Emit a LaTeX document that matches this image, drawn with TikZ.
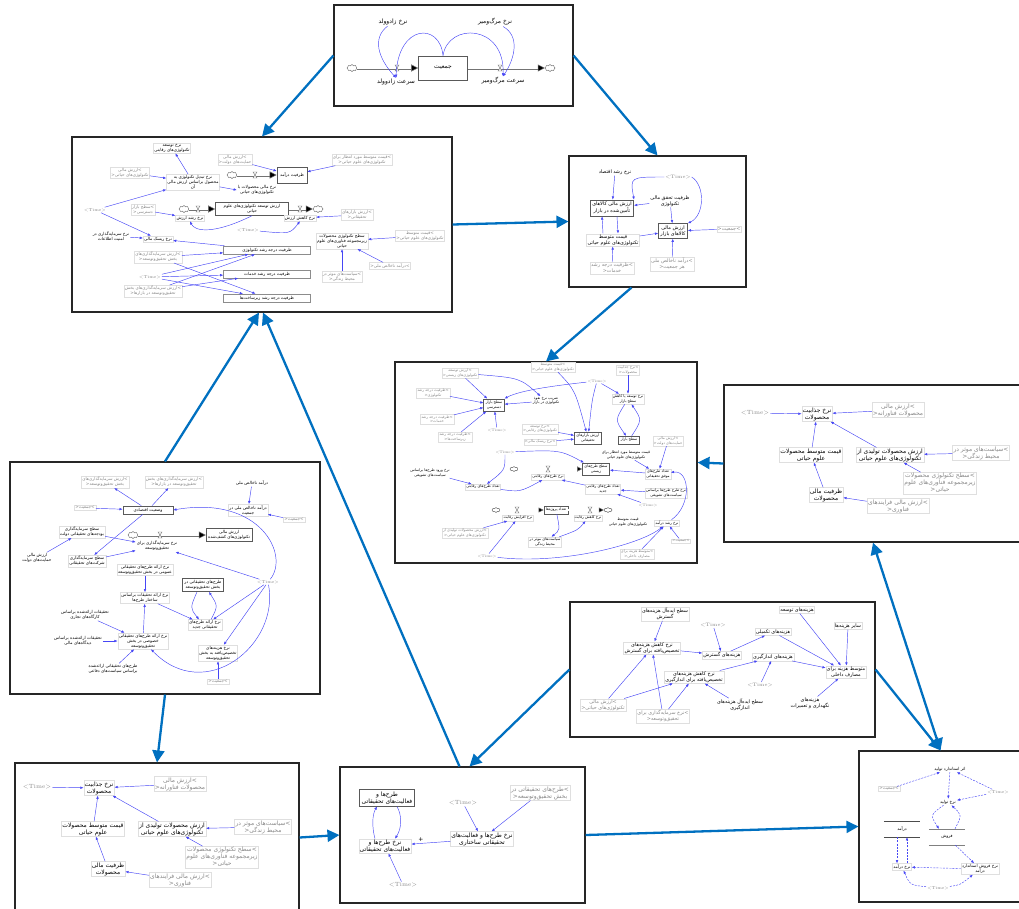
\documentclass[tikz,border=0pt]{standalone}
\usepackage{fontspec}
\newfontfamily\farsi[Script=Arabic]{DejaVu Sans}
\TeXXeTstate=1
\usepackage{tikz}
\usetikzlibrary{arrows.meta}
\usetikzlibrary{shapes.symbols}
\definecolor{linkblue}{RGB}{0,112,192}
\definecolor{sdblue}{RGB}{70,70,245}
\definecolor{shgray}{RGB}{135,135,135}
\newcommand{\fa}[1]{\beginR #1\endR}
\newcommand{\tm}{{\rmfamily <Time>}}
\newcommand{\fsA}{\farsi\fontsize{6}{7}\selectfont}
\newcommand{\fsB}{\farsi\fontsize{4.9}{5.8}\selectfont}
\newcommand{\fsC}{\farsi\fontsize{4.2}{5}\selectfont}
\newcommand{\fsD}{\farsi\fontsize{3.7}{4.4}\selectfont}
\newcommand{\vlv}[1]{\draw[black!60,line width=0.35pt,fill=white] (#1) ++(-2,-3) -- ++(4,0) -- ++(-4,6) -- ++(4,0) -- cycle;}

\begin{document}
\begin{tikzpicture}[x=1pt,y=-1pt]
\tikzset{>={Latex[width=2.6pt,length=3.2pt]}}
\tikzstyle{panel}=[draw=black!85,line width=1.1pt,inner sep=0pt]
\tikzstyle{link}=[-{Triangle[width=12pt,length=12pt]},draw=linkblue,line width=2.3pt]
\tikzstyle{arr}=[->,draw=sdblue,line width=0.45pt]
\tikzstyle{darr}=[arr,dash pattern=on 2pt off 1.2pt]
\tikzstyle{var}=[align=center,inner sep=1pt,draw=gray!25,line width=0.25pt]
\tikzstyle{shd}=[var,text=shgray]
\tikzstyle{stock}=[align=center,inner sep=2pt,draw=black!65,line width=0.6pt,fill=white]
\tikzstyle{cld}=[cloud,cloud puffs=8,draw=black!65,fill=white,minimum width=10pt,minimum height=7pt,inner sep=0pt,line width=0.4pt]
\tikzset{pipe/.style={draw=black!55,line width=0.5pt,double=white,double distance=2pt,-{Triangle[width=#1,length=#1,fill=black]}},pipe/.default=7pt}

\useasboundingbox (0,0) rectangle (1019,908);

\node[panel,minimum width=239pt,minimum height=101pt] (pTop) at (453.5,55.5) {};
\node[panel,minimum width=380pt,minimum height=175pt] (pLU) at (262,224.5) {};
\node[panel,minimum width=177pt,minimum height=131pt] (pR1) at (657.5,221.5) {};
\node[panel,minimum width=302pt,minimum height=201pt] (pM) at (546,462.5) {};
\node[panel,minimum width=298pt,minimum height=157pt] (pR2) at (873,463.5) {};
\node[panel,minimum width=310pt,minimum height=232pt] (pLM) at (165,578) {};
\node[panel,minimum width=305pt,minimum height=135pt] (pML) at (722.5,669.5) {};
\node[panel,minimum width=284pt,minimum height=149pt] (pBL) at (157,837.5) {};
\node[panel,minimum width=245pt,minimum height=136pt] (pBM) at (462.5,835) {};
\node[panel,minimum width=163pt,minimum height=151pt] (pBR) at (940.5,826.5) {};

% population
\begin{scope}[every node/.append style={font=\fsA}]
\node[stock,minimum width=49pt,minimum height=24pt] (tPop) at (443,68) {\fa{جمعیت}};
\node[cld] (tC1) at (352,68) {};
\node[cld] (tC2) at (550,68) {};
\draw[pipe] (tC1) -- (tPop);
\draw[pipe] (tPop) -- (tC2);
\vlv{397,68}
\vlv{500,68}
\node[var,draw=none] (tB) at (396,82) {\fa{سرعت زادوولد}};
\node[var,draw=none] (tD) at (503,81) {\fa{سرعت مرگ‌ومیر}};
\node[var,draw=none] (tBr) at (393,22) {\fa{نرخ زادوولد}};
\node[var,draw=none] (tDr) at (495,22) {\fa{نرخ مرگ‌ومیر}};
\draw[arr] (tBr) .. controls (372,38) and (378,58) .. (tB.north);
\draw[arr] (tPop.north) .. controls (440,22) and (398,24) .. (tB.north);
\draw[arr] (tPop.north) .. controls (448,22) and (505,24) .. (tD.north);
\draw[arr] (tDr) .. controls (520,36) and (515,58) .. (tD.north);
\end{scope}

\begin{scope}[every node/.append style={font=\fsB}]
\node[var,draw=none] (r1G) at (615,172) {\fa{نرخ رشد اقتصاد}};
\node[shd,draw=none] (r1T) at (678,177) {\tm};
\node[stock] (r1A) at (612,208) {\fa{ارزش مالی کالاهای}\\\fa{تأمین‌شده در بازار}};
\node[var,draw=none] (r1Z) at (670,201) {\fa{ظرفیت تحقق مالی}\\\fa{تکنولوژی}};
\node[stock] (r1B) at (673,231) {\fa{ارزش مالی}\\\fa{کالاهای بازار}};
\node[var] (r1P) at (613,240) {\fa{قیمت متوسط}\\\fa{تکنولوژی‌های علوم حیاتی}};
\node[shd] (r1J) at (729,229) {<\fa{جمعیت}>};
\node[shd] (r1D) at (672,264) {\fa{درآمد ناخالص ملی}>\\<\fa{هر جمعیت}};
\node[shd] (r1S) at (612,268) {\fa{ظرفیت درجه رشد}>\\<\fa{خدمات}};
\draw[arr] (r1G) -- (r1A);
\draw[arr] (r1T.west) .. controls (630,177) .. (r1A.north east);
\draw[arr] (r1T.east) .. controls (705,185) and (705,215) .. (r1B.north east);
\draw[arr] (r1Z) -- (r1A);
\draw[arr] (r1Z) -- (r1B);
\draw[arr] ([xshift=-10pt]r1P.north) -- ([xshift=-10pt]r1A.south);
\draw[arr] ([xshift=5pt]r1A.south) -- ([xshift=5pt]r1P.north);
\draw[arr] (r1P) -- (r1B);
\draw[arr] (r1J) -- (r1B);
\draw[arr] (r1D) -- (r1B);
\draw[arr] (r1S) -- (r1P);
\end{scope}

\foreach \dx/\dy/\s in {0/0/a,718/-374/b}{
\begin{scope}[shift={(\dx,\dy)},every node/.append style={font=\fsA}]
\node[shd,draw=none] (t\s) at (37,787) {\tm};
\node[var] (n\s) at (99,788) {\fa{نرخ جذابیت}\\\fa{محصولات}};
\node[shd] (m\s) at (180,784) {\fa{ارزش مالی}>\\<\fa{محصولات فناورانه}};
\node[var] (q\s) at (93,829) {\fa{قیمت متوسط محصولات}\\\fa{علوم حیاتی}};
\node[var] (v\s) at (172,829) {\fa{ارزش محصولات تولیدی از}\\\fa{تکنولوژی‌های علوم حیاتی}};
\node[shd] (s\s) at (263,827) {\fa{سیاست‌های موثر در}>\\<\fa{محیط زندگی}};
\node[shd] (l\s) at (222,857) {\fa{سطح تکنولوژی محصولات}>\\\fa{زیرمجموعه فناوری‌های علوم}\\<\fa{حیاتی}};
\node[var] (c\s) at (108,869) {\fa{ظرفیت مالی}\\\fa{محصولات}};
\node[shd] (f\s) at (180,880) {\fa{ارزش مالی فرایندهای}>\\<\fa{فناوری}};
\draw[arr] (t\s) -- (n\s);
\draw[arr] (m\s) -- (n\s);
\draw[arr] (q\s) -- (n\s);
\draw[arr] (v\s) -- (n\s);
\draw[arr] (s\s) -- (v\s);
\draw[arr] (l\s) -- (v\s);
\draw[arr] (c\s) -- (q\s);
\draw[arr] (f\s) -- (c\s);
\end{scope}}

\begin{scope}[every node/.append style={font=\fsA}]
\node[stock] (bS) at (387,798) {\fa{طرح‌ها و}\\\fa{فعالیت‌های تحقیقاتی}};
\node[var] (bR) at (385,846) {\fa{نرخ طرح‌ها و}\\\fa{فعالیت‌های تحقیقاتی}};
\node[shd,draw=none] (bT1) at (463,803) {\tm};
\node[shd] (bP) at (540,793) {\fa{طرح‌های تحقیقاتی در}>\\<\fa{بخش تحقیق‌وتوسعه}};
\node[var] (bN) at (482,839) {\fa{نرخ طرح‌ها و فعالیت‌های}\\\fa{تحقیقاتی ساختاری}};
\node[shd,draw=none] (bT2) at (403,885) {\tm};
\node (bPl) at (421,840) {+};
\draw[arr] ([xshift=10pt]bS.south) .. controls (402,815) and (402,828) .. ([xshift=10pt]bR.north);
\draw[arr] ([xshift=-10pt]bR.north) .. controls (372,828) and (372,815) .. ([xshift=-10pt]bS.south);
\draw[arr] (bT1) -- (bN);
\draw[arr] (bP) -- (bN);
\draw[arr] (bN) -- (bR);
\draw[arr] (bT2) -- (bR);
\end{scope}

% costs
\begin{scope}[every node/.append style={font=\fsB}]
\node[var] (mI1) at (665,614) {\fa{سطح ایده‌آل هزینه‌های}\\\fa{گسترش}};
\node[shd,draw=none] (mT1) at (713,625) {\tm};
\node[var] (mD) at (797,610) {\fa{هزینه‌های توسعه}};
\node[var] (mK1) at (652,648) {\fa{نرخ کاهش هزینه‌های}\\\fa{تخصیص‌یافته برای گسترش}};
\node[var] (mG) at (722,655) {\fa{هزینه‌های گسترش}};
\node[var] (mC) at (773,632) {\fa{هزینه‌های تکمیلی}};
\node[var] (mO) at (848,626) {\fa{سایر هزینه‌ها}};
\node[var] (mA) at (773,657) {\fa{هزینه‌های اندازگیری}};
\node[var] (mK2) at (694,677) {\fa{نرخ کاهش هزینه‌های}\\\fa{تخصیص‌یافته برای اندازگیری}};
\node[var] (mM) at (846,672) {\fa{متوسط هزینه برای}\\\fa{مصارف داخلی}};
\node[shd,draw=none] (mT2) at (760,685) {\tm};
\node[shd] (mV) at (603,705) {\fa{ارزش مالی}>\\<\fa{تکنولوژی‌های حیاتی}};
\node[shd] (mR) at (663,716) {\fa{نرخ سرمایه‌گذاری برای}>\\<\fa{تحقیق‌وتوسعه}};
\node[var,draw=none] (mI2) at (740,705) {\fa{سطح ایده‌آل هزینه‌های}\\\fa{اندازگیری}};
\node[var,draw=none] (mN) at (810,703) {\fa{هزینه‌های}\\\fa{نگهداری و تعمیرات}};
\draw[arr] (mI1) -- (mK1);
\draw[arr] (mT1) -- (mG);
\draw[arr] (mK1) -- (mG);
\draw[arr] (mG) -- (mC);
\draw[arr] (mC) -- (mM);
\draw[arr] (mD) -- (mM);
\draw[arr] (mO) -- (mM);
\draw[arr] (mA) -- (mM);
\draw[arr] (mK2) -- (mA);
\draw[arr] (mT2) -- (mA);
\draw[arr] (mN) -- (mM);
\draw[arr] (mI2) -- (mK2);
\draw[arr] (mV) -- (mK1);
\draw[arr] (mV) -- (mK2);
\draw[arr] (mR) -- (mK1);
\draw[arr] (mR) -- (mK2);
\end{scope}

\begin{scope}[every node/.append style={font=\fsC}]
\node[var,draw=none] (zE) at (950,769) {\fa{اثر استاندارد تولید}};
\node[shd] (zJ) at (889,789) {<\fa{جمعیت}>};
\node[shd,draw=none] (zT1) at (998,792) {\tm};
\node[var,draw=none] (zR) at (948,802) {\fa{نرخ تولید}};
\node[var,draw=none,minimum width=36pt,minimum height=16pt] (zS) at (947,837) {\fa{فروش}};
\node[var,draw=none,minimum width=36pt,minimum height=16pt] (zI) at (902,829) {\fa{درآمد}};
\draw[gray] (zS.north west) -- (zS.north east) (zS.south west) -- (zS.south east);
\draw[black!70] (zI.north west) -- (zI.north east) (zI.south west) -- (zI.south east);
\node[var] (zQ) at (902,867) {\fa{نرخ درآمد}};
\node[var] (zF) at (980,869) {\fa{نرخ فروش استاندارد}\\\fa{درآمد}};
\node[shd,draw=none] (zT2) at (938,888) {\tm};
\draw[darr] (zJ) -- (zE);
\draw[darr] (zT1) -- (zE);
\draw[darr] (zE) -- (zR);
\draw[darr] (zT1) -- (zR);
\draw[darr] (zR) .. controls (930,815) .. ([xshift=-8pt]zS.north);
\draw[darr] ([xshift=8pt]zS.north) .. controls (962,815) .. (zR);
\draw[darr] (zS) -- (zF);
\draw[darr] (zF) -- (zQ);
\draw[darr] ([xshift=-5pt]zI.south) -- ([xshift=-5pt]zQ.north);
\draw[darr] ([xshift=5pt]zQ.north) -- ([xshift=5pt]zI.south);
\draw[darr] (zT2) .. controls (910,885) .. (zQ);
\draw[darr] (zT2) .. controls (960,885) .. (zF);
\end{scope}

\begin{scope}[every node/.append style={font=\fsC}]
\node[var] (uA) at (172,148) {\fa{نرخ توسعه}\\\fa{تکنولوژی‌های رقابتی}};
\node[shd] (uB) at (235,160) {\fa{ارزش مالی}>\\<\fa{حمایت‌های دولت}};
\node[shd] (uC) at (362,160) {\fa{قیمت متوسط مورد انتظار برای}>\\<\fa{تکنولوژی‌های علوم حیاتی}};
\node[shd] (uD) at (130,173) {\fa{ارزش مالی}>\\<\fa{تکنولوژی‌های حیاتی}};
\node[var] (uE) at (193,182) {\fa{نرخ تبدیل تکنولوژی به}\\\fa{محصول براساس ارزش مالی}\\\fa{آن}};
\node[stock,minimum width=30pt,minimum height=16pt] (uF) at (292,175) {\fa{ظرفیت درآمد}};
\node[cld] (uC1) at (232,175) {};
\draw[pipe] (uC1) -- (uF);
\vlv{255,175}
\node[var,draw=none] (uG) at (257,190) {\fa{نرخ مالی محصولات با}\\\fa{تکنولوژی‌های حیاتی}};
\node[shd,draw=none] (uT1) at (95,210) {\tm};
\node[shd] (uH) at (143,210) {\fa{سطح بازار}>\\<\fa{دسترسی}};
\node[stock,minimum width=73pt] (uS) at (252,209) {\fa{ارزش توسعه تکنولوژی‌های علوم}\\\fa{حیاتی}};
\node[cld] (uC2) at (184,209) {};
\node[cld] (uC3) at (318,209) {};
\draw[pipe] (uC2) -- (uS);
\draw[pipe] (uS) -- (uC3);
\vlv{198,209}
\vlv{300,209}
\node[var] (uI) at (190,218) {\fa{نرخ رشد ارزش}};
\node[var] (uJ) at (300,218) {\fa{نرخ کاهش ارزش}};
\node[shd,draw=none] (uT2) at (248,230) {\tm};
\node[shd] (uK) at (357,215) {\fa{ارزش بازارهای}>\\<\fa{تحقیقاتی}};
\node[var,draw=none] (uL) at (111,236) {\fa{نرخ سرمایه‌گذاری در}\\\fa{امنیت اطلاعات}};
\node[var] (uM) at (158,239) {\fa{نرخ ریسک مالی}};
\node[stock,draw=black!45,line width=0.4pt,minimum width=87pt] (uN) at (267,250) {\fa{ظرفیت درجه رشد تکنولوژی}};
\node[var] (uO) at (342,241) {\fa{سطح تکنولوژی محصولات}\\\fa{زیرمجموعه فناوری‌های علوم}\\\fa{حیاتی}};
\node[shd] (uP) at (420,236) {\fa{قیمت متوسط}>\\<\fa{تکنولوژی‌های علوم حیاتی}};
\node[shd] (uQ) at (158,257) {\fa{ارزش سرمایه‌گذاری‌های}>\\<\fa{بخش تحقیق‌وتوسعه}};
\node[shd,draw=none] (uT3) at (150,277) {\tm};
\node[stock,draw=black!45,line width=0.4pt,minimum width=87pt] (uR) at (267,274) {\fa{ظرفیت درجه رشد خدمات}};
\node[shd] (uU) at (342,277) {\fa{سیاست‌های موثر در}>\\<\fa{محیط زندگی}};
\node[shd] (uV) at (390,266) {<\fa{درآمد ناخالص ملی}>};
\node[shd] (uW) at (153,291) {\fa{ارزش سرمایه‌گذاری‌های بخش}>\\<\fa{تحقیق‌وتوسعه در بازارها}};
\node[stock,draw=black!45,line width=0.4pt,minimum width=87pt] (uX) at (267,298) {\fa{ظرفیت درجه رشد زیرساخت‌ها}};
\draw[arr] (uE) -- (uA);
\draw[arr] (uD) -- (uE);
\draw[arr] (uT1) -- (uE);
\draw[arr] (uE) -- (uG.west);
\draw[arr] (uB) -- (uF);
\draw[arr] (uC) -- (uF);
\draw[arr] (uT1) -- (uM);
\draw[arr] (uH) -- (uI);
\draw[arr] (uS.south) .. controls (215,234) and (195,232) .. (uI.south);
\draw[arr] (uT2) .. controls (290,234) .. (uJ.south);
\draw[arr] (uK) -- (uJ);
\draw[arr] (uL) -- (uM);
\draw[arr] (uN) -- (uM);
\draw[arr] (uQ) -- (uN);
\draw[arr] (uQ) -- (uX);
\draw[arr] (uT3) -- (uN);
\draw[arr] (uT3) -- (uR);
\draw[arr] (uT3) -- (uX);
\draw[arr] (uW) -- (uN);
\draw[arr] (uW) -- (uR);
\draw[arr] (uP) -- (uO);
\draw[arr] (uU) -- (uO);
\draw[arr] (uV) -- (uO);
\end{scope}

% market
\begin{scope}[every node/.append style={font=\fsD}]
\node[shd] (wA) at (460,373) {\fa{ارزش توسعه}>\\<\fa{تکنولوژی‌های زیستی}};
\node[shd] (wB) at (553,367) {\fa{قیمت متوسط}>\\<\fa{تکنولوژی‌های علوم حیاتی}};
\node[shd] (wC) at (628,370) {\fa{نرخ جذابیت}>\\<\fa{محصولات}};
\node[shd,draw=none] (wT1) at (597,381) {\tm};
\node[shd] (wD) at (433,393) {\fa{ظرفیت درجه رشد}>\\<\fa{تکنولوژی}};
\node[stock] (wE) at (494,405) {\fa{سطح بازار}\\\fa{دسترسی}};
\node[var,draw=none] (wF) at (546,401) {\fa{ضریب نرخ نفوذ}\\\fa{تکنولوژی در بازار}};
\node[var] (wG) at (628,399) {\fa{نرخ توسعه یا کاهش}\\\fa{سطح بازار}};
\node[shd] (wH) at (437,419) {\fa{ظرفیت درجه رشد}>\\<\fa{خدمات}};
\node[shd,draw=none] (wT2) at (497,430) {\tm};
\node[shd] (wI) at (455,437) {\fa{ظرفیت درجه رشد}>\\<\fa{زیرساخت‌ها}};
\node[shd] (wJ) at (540,429) {\fa{نرخ توسعه}>\\<\fa{تکنولوژی‌های رقابتی}};
\node[shd] (wK) at (540,442) {<\fa{نرخ ریسک مالی}>};
\node[stock] (wL) at (588,438) {\fa{ارزش بازارهای}\\\fa{تحقیقاتی}};
\node[stock] (wM) at (629,440) {\fa{سطح بازار}};
\node[shd] (wN) at (668,441) {\fa{ارزش مالی}>\\<\fa{حمایت‌های دولت}};
\node[shd,draw=none] (wT3) at (505,452) {\tm};
\node[var,draw=none] (wO) at (626,455) {\fa{قیمت متوسط مورد انتظار برای}\\\fa{تکنولوژی‌های علوم حیاتی}};
\node[stock] (wP) at (596,469) {\fa{سطح طرح‌های}\\\fa{زیستی}};
\node[cld,minimum width=8pt,minimum height=5pt] (wC1) at (514,469) {};
\draw[pipe=5pt,double distance=1.5pt] (wC1) -- (wP);
\vlv{548,469}
\node[var] (wQ) at (548,477) {\fa{نرخ طرح‌های رقابتی}};
\node[var] (wR) at (658,474) {\fa{تعداد طرح‌های}\\\fa{موفق تحقیقاتی}};
\node[var,draw=none] (wS) at (430,473) {\fa{نرخ ورود طرح‌ها براساس}\\\fa{سیاست‌های تشویقی}};
\node[var] (wU) at (483,487) {\fa{تعداد طرح‌های رقابتی}};
\node[var] (wV) at (603,489) {\fa{تعداد طرح‌های رقابتی}\\\fa{جدید}};
\node[var] (wW) at (666,493) {\fa{نرخ طرح طرح‌ها براساس}\\\fa{سیاست‌های تشویقی}};
\node[shd,draw=none] (wT4) at (648,505) {\tm};
\node[stock] (wX) at (556,510) {\fa{تعداد پروژه‌ها}};
\node[cld,minimum width=8pt,minimum height=5pt] (wC2) at (496,510) {};
\node[cld,minimum width=8pt,minimum height=5pt] (wC3) at (608,510) {};
\draw[pipe=5pt,double distance=1.5pt] (wC2) -- (wX);
\draw[pipe=5pt,double distance=1.5pt] (wX) -- (wC3);
\vlv{517,510}
\vlv{590,510}
\node[var] (wY) at (518,518) {\fa{نرخ افزایش رقابت}};
\node[var] (wZ) at (588,518) {\fa{نرخ کاهش رقابت}};
\node[var,draw=none] (wa) at (628,522) {\fa{قیمت متوسط}\\\fa{تکنولوژی‌های علوم حیاتی}};
\node[var] (wb) at (667,523) {\fa{نرخ رشد درآمد}};
\node[shd] (wc) at (465,533) {\fa{ارزش محصولات تولیدی از}>\\<\fa{تکنولوژی‌های علوم حیاتی}};
\node[var] (wd) at (545,542) {\fa{سیاست‌های موثر در}\\\fa{محیط زندگی}};
\node[shd] (we) at (681,541) {<\fa{جمعیت}>};
\node[shd] (wf) at (637,554) {\fa{متوسط هزینه برای}>\\<\fa{مصارف داخلی}};
\node[shd,draw=none] (wT5) at (487,556) {\tm};
\draw[arr] (wA) -- (wE);
\draw[arr] (wD) -- (wE);
\draw[arr] (wH) -- (wE);
\draw[arr] (wI) -- (wE);
\draw[arr] (wT2) -- (wE);
\draw[arr] (wF) -- (wE);
\draw[arr] (wA) .. controls (520,378) .. (wF);
\draw[arr] (wB) .. controls (575,390) .. (wL);
\draw[arr] (wT1) .. controls (560,385) and (520,390) .. (wE.north east);
\draw[arr] (wT1) .. controls (592,400) .. (wL);
\draw[arr] (wT1) -- (wG);
\draw[arr] (wC) -- (wG);
\draw[arr] (wG) .. controls (615,420) .. (wM);
\draw[arr] (wM) .. controls (642,420) .. (wG);
\draw[arr] (wJ) -- (wL);
\draw[arr] (wK) -- (wL);
\draw[arr] (wT3) .. controls (505,470) .. (wU);
\draw[arr] (wT3) .. controls (560,450) .. (wP);
\draw[arr] (wS) -- (wU);
\draw[arr] (wU) .. controls (520,492) .. (wQ);
\draw[arr] (wO) -- (wR);
\draw[arr] (wN) -- (wR);
\draw[arr] (wR) -- (wP);
\draw[arr] (wV) -- (wQ);
\draw[arr] (wW) -- (wV);
\draw[arr] (wT4) -- (wV);
\draw[arr] (wb) .. controls (692,505) and (690,470) .. (wR);
\draw[arr] (wc) -- (wY);
\draw[arr] (wT5) -- (wY);
\draw[arr] (wT5) .. controls (560,565) and (640,545) .. (wb);
\draw[arr] (wX) .. controls (560,530) .. (wd);
\draw[arr] (wd) .. controls (578,530) .. (wZ);
\draw[arr] (wf) -- (wb);
\draw[arr] (we) -- (wb);
\end{scope}

% R&D investment
\begin{scope}[every node/.append style={font=\fsC}]
\node[shd] (gA) at (105,482) {\fa{ارزش سرمایه‌گذاری‌های}>\\<\fa{بخش تحقیق‌وتوسعه}};
\node[shd] (gB) at (174,482) {\fa{ارزش سرمایه‌گذاری‌های بخش}>\\<\fa{تحقیق‌وتوسعه در بازارها}};
\node[var,draw=none] (gC) at (252,483) {\fa{درآمد ناخالص ملی}};
\node[shd] (gD) at (85,508) {<\fa{جمعیت}>};
\node[stock,minimum width=50pt] (gE) at (148,510) {\fa{وضعیت اقتصادی}};
\node[var] (gF) at (248,510) {\fa{درآمد ناخالص ملی در}\\\fa{جمعیت}};
\node[shd] (gG) at (294,520) {<\fa{جمعیت}>};
\node[var] (gH) at (82,532) {\fa{سطح سرمایه‌گذاری}\\\fa{بودجه‌های تحقیقاتی دولت}};
\node[cld] (gCl) at (133,535) {};
\node[stock] (gJ) at (229,535) {\fa{ارزش مالی}\\\fa{تکنولوژی‌های کشف‌شده}};
\draw[pipe] (gCl) -- (gJ);
\vlv{160,535}
\node[var,draw=none] (gI) at (157,546) {\fa{نرخ سرمایه‌گذاری برای}\\\fa{تحقیق‌وتوسعه}};
\node[var,draw=none] (gK) at (37,558) {\fa{ارزش مالی}\\\fa{حمایت‌های دولت}};
\node[var] (gL) at (87,561) {\fa{سطح سرمایه‌گذاری}\\\fa{شرکت‌های تحقیقاتی}};
\node[var] (gM) at (145,570) {\fa{نرخ ارائه طرح‌های تحقیقاتی}\\\fa{عمومی در بخش تحقیق‌وتوسعه}};
\node[stock] (gN) at (203,585) {\fa{طرح‌های تحقیقاتی در}\\\fa{بخش تحقیق‌وتوسعه}};
\node[shd,draw=none] (gT) at (268,582) {\tm};
\node[var] (gO) at (145,598) {\fa{نرخ ارائه تحقیقات براساس}\\\fa{ساختار طرح‌ها}};
\node[var,draw=none] (gP) at (85,615) {\fa{تحقیقات ارائه‌شده براساس}\\\fa{کارگاه‌های تجاری}};
\node[var] (gQ) at (205,625) {\fa{نرخ ارائه طرح‌های}\\\fa{تحقیقاتی جدید}};
\node[var] (gR) at (143,641) {\fa{نرخ ارائه طرح‌های تحقیقاتی}\\\fa{خصوصی در بخش}\\\fa{تحقیق‌وتوسعه}};
\node[var,draw=none] (gS) at (78,641) {\fa{تحقیقات ارائه‌شده براساس}\\\fa{دیدگاه‌های مالی}};
\node[var] (gU) at (218,653) {\fa{نرخ هزینه‌های}\\\fa{تخصیص‌یافته به بخش}\\\fa{تحقیق‌وتوسعه}};
\node[var,draw=none] (gV) at (113,669) {\fa{طرح‌های تحقیقاتی ارائه‌شده}\\\fa{براساس سیاست‌های دفاعی}};
\node[shd] (gW) at (218,682) {<\fa{جمعیت}>};
\draw[arr] (gE) -- (gA);
\draw[arr] (gE) -- (gB);
\draw[arr] (gC) -- (gF);
\draw[arr] (gD) -- (gE);
\draw[arr] (gG) -- (gF);
\draw[arr] (gE) -- (gL);
\draw[arr] (gH) -- (gI);
\draw[arr] (gL) -- (gI);
\draw[arr] (gK) -- (gH);
\draw[arr] (gT) -- (gI);
\draw[arr] (gT) .. controls (290,555) and (260,495) .. (gE.east);
\draw[arr] (gT) .. controls (280,645) and (205,705) .. (gR);
\draw[arr] (gM) -- (gO);
\draw[arr] (gO) -- (gQ);
\draw[arr] (gR) -- (gO);
\draw[arr] ([xshift=-6pt]gN.south) .. controls (190,608) .. ([xshift=-6pt]gQ.north);
\draw[arr] ([xshift=6pt]gQ.north) .. controls (218,606) .. ([xshift=6pt]gN.south);
\draw[arr] (gT) -- (gQ);
\draw[arr] (gT) -- (gU);
\draw[arr] (gP) -- (gR);
\draw[arr] (gS) -- (gR);
\draw[arr] (gV) -- (gR);
\draw[arr] (gW) -- (gU);
\end{scope}

\draw[link] (pTop.west) -- (pLU.north);
\draw[link] (pTop.east) -- (pR1.north);
\draw[link] (pLU.east) -- (pR1.west);
\draw[link] ([xshift=-26pt]pR1.south) -- (pM.north);
\draw[link] (pR2.west) -- (pM.east);
\draw[link] (pLM.north) -- ([xshift=-3pt]pLU.south);
\draw[link] ([xshift=-3pt]pBM.north) -- ([xshift=1pt]pLU.south);
\draw[link] (pLM.south) -- (pBL.north);
\draw[link] (pBL.east) -- (pBM.west);
\draw[link] (pBM.east) -- (pBR.west);
\draw[link] (pML.west) -- ([xshift=7pt]pBM.north);
\draw[link] (pML.east) -- (pBR.north);
\draw[link,{Triangle[width=12pt,length=12pt]}-{Triangle[width=12pt,length=12pt]}] (pBR.north) -- (pR2.south);
\end{tikzpicture}
\end{document}
